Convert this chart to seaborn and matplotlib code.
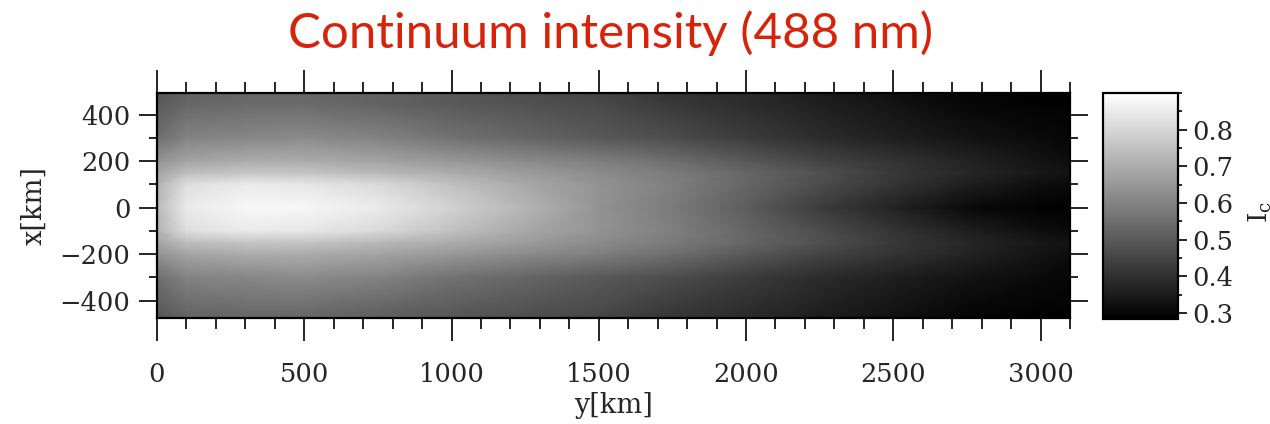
import numpy as np
import matplotlib
matplotlib.use("Agg")
import matplotlib.pyplot as plt
from matplotlib.ticker import MultipleLocator
import seaborn as sns

sns.set_theme(style="white")
plt.rcParams["font.family"] = ["DejaVu Serif"]
plt.rcParams["mathtext.fontset"] = "dejavuserif"

# Sample positions of the continuum intensity map (km)
y_km = [0, 100, 300, 500, 750, 1000, 1250, 1500, 1750, 2000, 2250, 2500, 2750, 3000, 3100]
x_km = [-480, -450, -300, -200, -150, -100, 0, 100, 150, 200, 300, 450, 495]

# Continuum intensity I_c along y for each x position
ic_x_m480 = [0.49, 0.52, 0.53, 0.53, 0.52, 0.50, 0.47, 0.45, 0.41, 0.39, 0.35, 0.32, 0.30, 0.29, 0.29]
ic_x_m450 = [0.50, 0.53, 0.54, 0.54, 0.52, 0.50, 0.48, 0.46, 0.42, 0.39, 0.36, 0.33, 0.30, 0.29, 0.29]
ic_x_m300 = [0.55, 0.60, 0.61, 0.62, 0.60, 0.56, 0.53, 0.50, 0.47, 0.43, 0.39, 0.36, 0.33, 0.31, 0.30]
ic_x_m200 = [0.64, 0.68, 0.70, 0.70, 0.68, 0.65, 0.62, 0.59, 0.55, 0.50, 0.45, 0.41, 0.37, 0.33, 0.32]
ic_x_m150 = [0.68, 0.74, 0.76, 0.76, 0.73, 0.70, 0.66, 0.62, 0.58, 0.53, 0.48, 0.42, 0.38, 0.34, 0.33]
ic_x_m100 = [0.71, 0.82, 0.85, 0.84, 0.81, 0.75, 0.69, 0.64, 0.59, 0.53, 0.47, 0.41, 0.36, 0.32, 0.31]
ic_x_0 = [0.73, 0.85, 0.88, 0.88, 0.85, 0.79, 0.72, 0.64, 0.58, 0.51, 0.43, 0.37, 0.31, 0.29, 0.285]
ic_x_p100 = [0.71, 0.82, 0.85, 0.84, 0.81, 0.75, 0.69, 0.64, 0.59, 0.53, 0.47, 0.41, 0.36, 0.32, 0.31]
ic_x_p150 = [0.68, 0.74, 0.76, 0.76, 0.73, 0.70, 0.66, 0.62, 0.58, 0.53, 0.48, 0.42, 0.38, 0.34, 0.33]
ic_x_p200 = [0.64, 0.68, 0.70, 0.70, 0.68, 0.65, 0.62, 0.59, 0.55, 0.50, 0.45, 0.41, 0.37, 0.33, 0.32]
ic_x_p300 = [0.55, 0.60, 0.61, 0.62, 0.60, 0.56, 0.53, 0.50, 0.47, 0.43, 0.39, 0.36, 0.33, 0.31, 0.30]
ic_x_p450 = [0.50, 0.53, 0.54, 0.54, 0.52, 0.50, 0.48, 0.46, 0.42, 0.39, 0.36, 0.33, 0.30, 0.29, 0.29]
ic_x_p495 = [0.49, 0.52, 0.53, 0.53, 0.52, 0.50, 0.47, 0.45, 0.41, 0.39, 0.35, 0.32, 0.30, 0.29, 0.29]

cbar_ticks = [0.3, 0.4, 0.5, 0.6, 0.7, 0.8]
x_ticks = [-400, -200, 0, 200, 400]
y_ticks = [0, 500, 1000, 1500, 2000, 2500, 3000]

ic_map = np.array([ic_x_m480, ic_x_m450, ic_x_m300, ic_x_m200, ic_x_m150, ic_x_m100, ic_x_0,
                   ic_x_p100, ic_x_p150, ic_x_p200, ic_x_p300, ic_x_p450, ic_x_p495])

vmin, vmax = 0.284, 0.900

fig = plt.figure(figsize=(12.7, 4.24), dpi=100)
W, H = 1270, 424
ax = fig.add_axes([157 / W, 1 - 318 / H, (1070 - 157) / W, (318 - 93) / H])
cax = fig.add_axes([1103 / W, 1 - 319 / H, (1178 - 1103) / W, (319 - 93) / H])

mesh = ax.pcolormesh(y_km, x_km, ic_map, cmap="gray", vmin=vmin, vmax=vmax,
                     shading="gouraud", rasterized=True)
ax.set_xlim(0, 3100)
ax.set_ylim(-475, 493)

ax.set_xticks(y_ticks)
ax.set_yticks(x_ticks)
ax.xaxis.set_minor_locator(MultipleLocator(100))
ax.yaxis.set_minor_locator(MultipleLocator(100))
ax.set_yticklabels(["\u2212400", "\u2212200", "0", "200", "400"])
ax.tick_params(axis="x", which="major", direction="out", length=16.5, width=1.2,
               top=True, bottom=True, labelsize=18.5, pad=15, color="black")
ax.tick_params(axis="x", which="minor", direction="out", length=8, width=1.2,
               top=True, bottom=True, color="black")
ax.tick_params(axis="y", which="major", direction="out", length=13, width=1.2,
               left=True, right=True, labelsize=18.5, pad=6, color="black")
ax.tick_params(axis="y", which="minor", direction="out", length=6, width=1.2,
               left=True, right=True, color="black")
for s in ax.spines.values():
    s.set_linewidth(1.6)
    s.set_color("black")

ax.set_xlabel("y[km]", fontsize=19.5, labelpad=4)
ax.set_ylabel("x[km]", fontsize=19.5, labelpad=9)

cb = fig.colorbar(mesh, cax=cax, orientation="vertical")
cb.set_ticks(cbar_ticks)
cb.ax.yaxis.set_minor_locator(MultipleLocator(0.05))
cb.ax.tick_params(which="major", direction="out", length=6.5, width=1.2,
                  labelsize=18.5, pad=4, right=True, left=False, color="black")
cb.ax.tick_params(which="minor", direction="out", length=3, width=1.2,
                  right=True, left=False, color="black")
cb.outline.set_linewidth(1.6)
cb.outline.set_edgecolor("black")

fig.text(1247 / W, 1 - 212 / H, r"$\mathrm{I_c}$", rotation=90, fontsize=19,
         ha="left", va="center")

fig.text(611 / W, 1 - 33 / H, "Continuum intensity (488 nm)", fontsize=35.5,
         family=["Lato", "DejaVu Sans"], color="#d7230a",
         ha="center", va="center")

fig.savefig("out.png", dpi=100)
